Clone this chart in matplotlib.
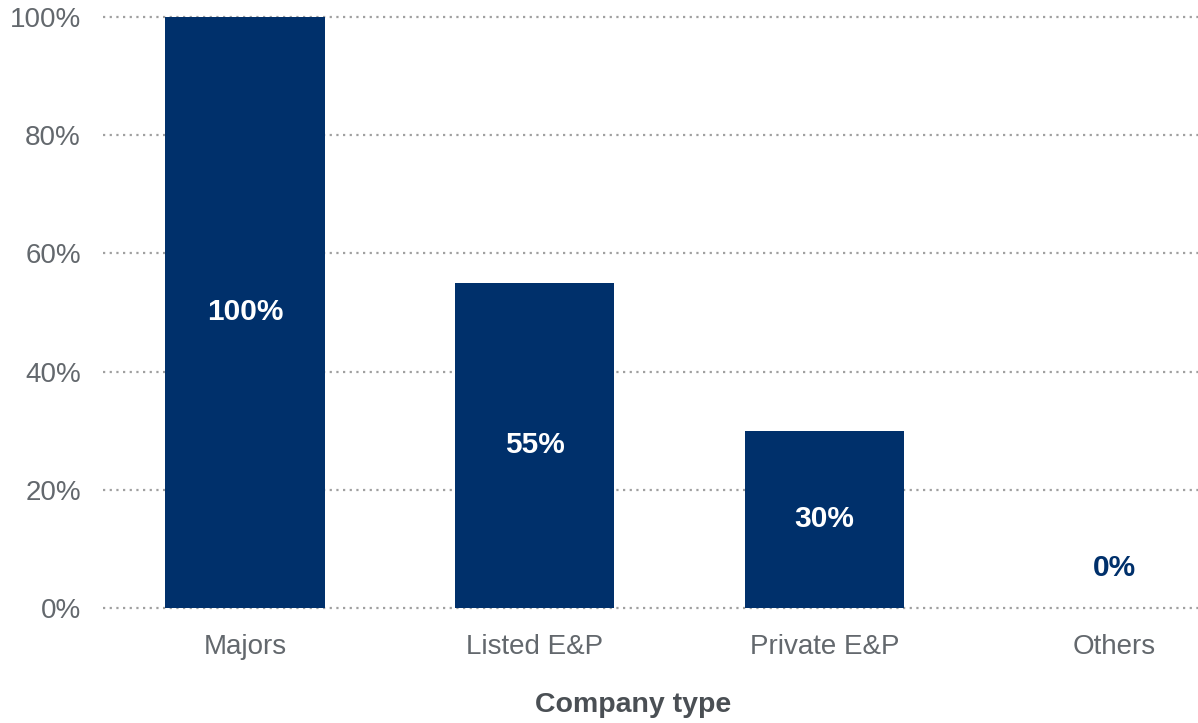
import matplotlib.pyplot as plt
import numpy as np

# share of companies by type
categories = ['Majors', 'Listed E&P', 'Private E&P', 'Others']
shares = [100, 55, 30, 0]
yticks = [0, 20, 40, 60, 80, 100]

bar_color = '#00306b'
tick_color = '#63686d'

plt.rcParams['font.family'] = ['Liberation Sans', 'DejaVu Sans']

fig = plt.figure(figsize=(11.98, 7.23), dpi=100)
ax = fig.add_axes([103 / 1198, 1 - 608 / 723, 1 - 103 / 1198, (608 - 17) / 723])

x = np.arange(len(categories))
bars = ax.bar(x, shares, width=0.55, color=bar_color, zorder=3)

# dotted gridlines drawn under the bars
for t in yticks:
    ax.axhline(t, color='#a0a0a0', linewidth=1.6, linestyle=(0, (1, 2.0)), zorder=1, clip_on=False)

ax.set_xlim(-0.49, 3.29)
ax.set_ylim(0, 100)
ax.set_yticks(yticks)
ax.set_yticklabels([f'{t}%' for t in yticks])
ax.set_xticks(x)
ax.set_xticklabels(categories)
ax.tick_params(axis='y', length=0, pad=16, labelsize=20, labelcolor=tick_color)
ax.tick_params(axis='x', length=0, pad=19, labelsize=20, labelcolor=tick_color)
for s in ax.spines.values():
    s.set_visible(False)

# value labels: inside the bar, or above it when the bar is empty
for xi, v in zip(x, shares):
    if v > 0:
        ax.text(xi, v / 2, f'{v}%', ha='center', va='center', color='white',
                fontsize=21.5, fontweight='bold', zorder=4)
    else:
        ax.annotate(f'{v}%', (xi, v), xytext=(0, 29), textcoords='offset points',
                    ha='center', va='center', color=bar_color, fontsize=21.5,
                    fontweight='bold')

fig.text(633 / 1198, 1 - 705 / 723, 'Company type', ha='center', va='center',
         fontsize=20.5, fontweight='bold', color='#4a4f54')

fig.savefig('out.png', dpi=100)
